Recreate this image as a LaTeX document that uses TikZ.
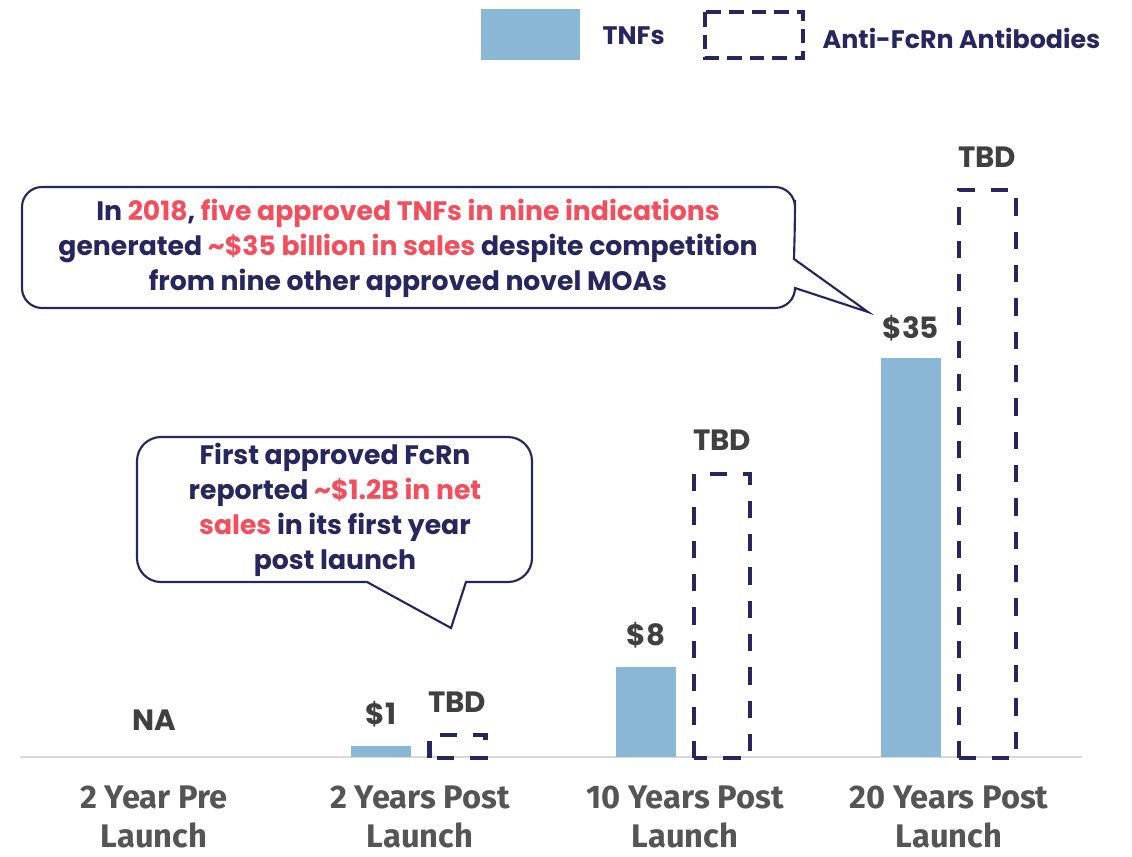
\documentclass[tikz,border=0pt]{standalone}
\usepackage{fontspec}
\setmainfont{Poppins}
\newfontfamily\condfont{Fira Sans}
\usepackage{xcolor}
\usetikzlibrary{positioning}
\definecolor{tnfblue}{HTML}{8BB7D7}
\definecolor{navy}{HTML}{28265F}
\definecolor{salmon}{HTML}{F44E5C}
\definecolor{valgray}{HTML}{404040}
\definecolor{catgray}{HTML}{555555}
\definecolor{axisgray}{HTML}{D9D9D9}
\tikzset{
    tnfbar/.style={fill=tnfblue, draw=none},
    fcrnbar/.style={draw=navy, line width=3.5pt, dash pattern=on 13pt off 12pt},
    balloon/.style={draw=navy, line width=1.6pt, fill=white, line join=miter},
    notetext/.style={text=navy, font=\bfseries\fontsize{20}{26.25}\selectfont, align=center},
    valuelabel/.style={text=valgray, font=\bfseries\fontsize{22}{24}\selectfont},
    catlabel/.style={text=catgray, font=\condfont\bfseries\fontsize{24.5}{29}\selectfont, align=center},
    legendtext/.style={text=navy, font=\bfseries\fontsize{19}{22}\selectfont, anchor=west}
}

\begin{document}
\begin{tikzpicture}[line cap=butt,x=0.75pt,y=-0.75pt]
                \useasboundingbox (0,0) rectangle (1132,857);
                % legend
                \fill [tnfblue] (481,9) rectangle (580,60);
                \node[legendtext] (legtnf) at (598,36) {TNFs};
                \draw [draw=navy, line width=3.5pt, dash pattern=on 11pt off 6pt] (705,12) rectangle (803,58);
                \node[legendtext] (legfcrn) at (818,38) {Anti-FcRn Antibodies};
                % axis
                \draw [axisgray, line width=1.5pt] (20,757)-- (1082,757);
                % bars
                \fill [tnfbar] (351,757) rectangle (411,746);
                \draw [fcrnbar] (429.5,758) rectangle (485.5,735);
                \fill [tnfbar] (616,757) rectangle (676,667);
                \draw [fcrnbar] (694,758) rectangle (750,474);
                \fill [tnfbar] (881,757) rectangle (941,358);
                \draw [fcrnbar] (959,758) rectangle (1016,190);
                % callouts
                \draw [balloon] (794,259)-- (868,312)-- (795,288) [rounded corners=15] -- (795,308)-- (22,308)-- (22,187)-- (795,187)-- (795,220) [sharp corners] -- cycle;
                \draw [balloon] (367,582)-- (451,628)-- (466,582) [rounded corners=18] -- (532,582)-- (532,437)-- (137,437)-- (137,582)-- (300,582) [sharp corners] -- cycle;
                \node[notetext] (note2018) at (408,248) {In \textcolor{salmon}{2018}, \textcolor{salmon}{five approved TNFs in nine indications}\\generated \textcolor{salmon}{\textasciitilde\$35 billion in sales} despite competition\\from nine other approved novel MOAs};
                \node[notetext] (notefirst) at (335,510) {First approved FcRn\\reported \textcolor{salmon}{\textasciitilde\$1.2B in net}\\\textcolor{salmon}{sales} in its first year\\post launch};
                % values
                \node[valuelabel] (napre) at (154,720) {NA};
                \node[valuelabel] (val2tnf) at (381,714) {\$1};
                \node[valuelabel] (val2fcrn) at (457,702) {TBD};
                \node[valuelabel] (val10tnf) at (646,635) {\$8};
                \node[valuelabel] (val10fcrn) at (722,440) {TBD};
                \node[valuelabel] (val20tnf) at (911,328) {\$35};
                \node[valuelabel] (val20fcrn) at (987,157) {TBD};
                % categories
                \node[catlabel] (catpre) at (154,817) {2 Year Pre\\Launch};
                \node[catlabel] (cat2) at (420,817) {2 Years Post\\Launch};
                \node[catlabel] (cat10) at (685,817) {10 Years Post\\Launch};
                \node[catlabel] (cat20) at (949,817) {20 Years Post\\Launch};
\end{tikzpicture}
\end{document}
